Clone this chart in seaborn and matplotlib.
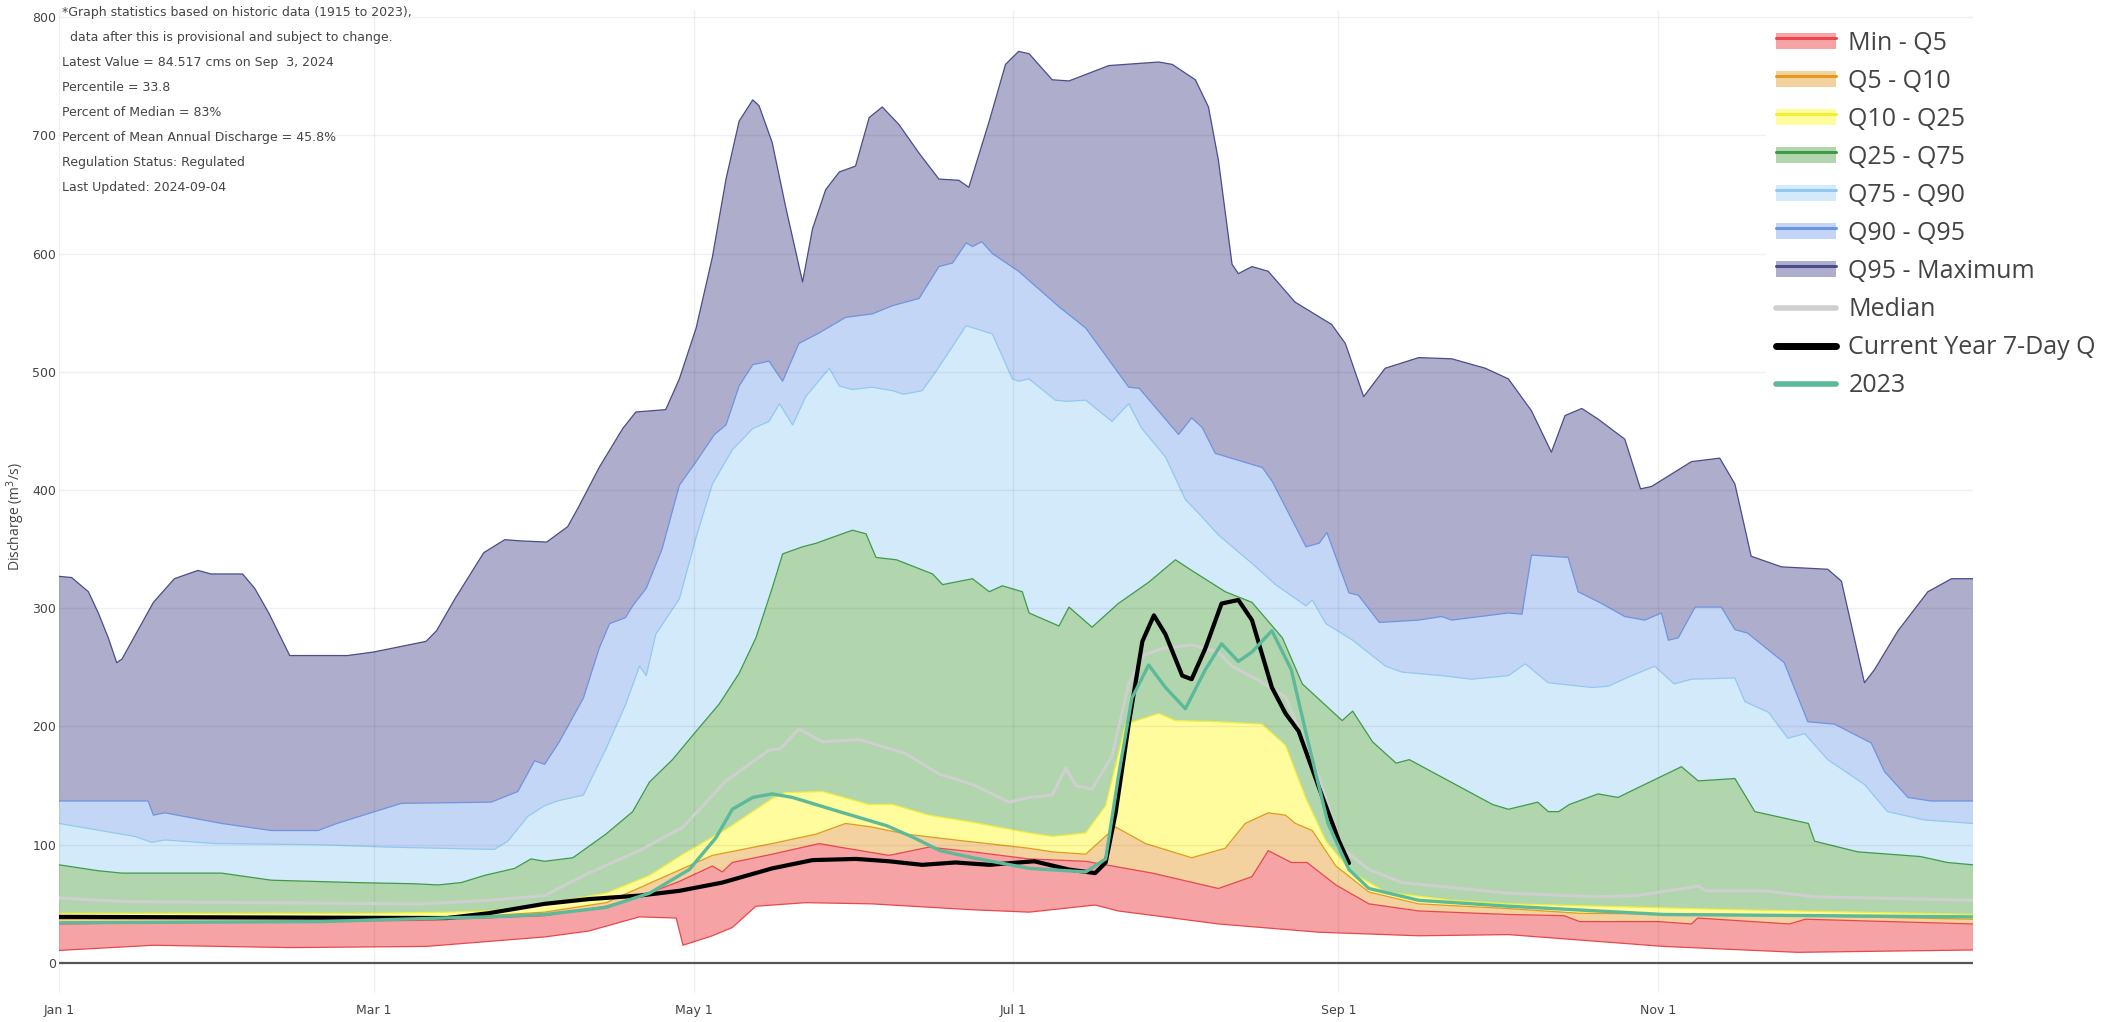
import numpy as np
import pandas as pd
import matplotlib
matplotlib.use('Agg')
import matplotlib.pyplot as plt
import matplotlib.dates as mdates
from matplotlib.patches import Patch, Rectangle
from matplotlib.lines import Line2D
from matplotlib.legend_handler import HandlerBase
import seaborn as sns

# ---- data (day of year 2024, discharge m3/s) ----
max_days = [0, 2.4, 5.6, 7.5, 9.4, 11, 12, 15, 18, 22, 26.5, 29, 35, 37.3, 40, 44, 55, 60, 70, 72,
            75.5, 81, 85, 88, 93, 97, 99, 103, 107.5, 110, 115.7, 118.3, 121.5, 124.6, 127.2, 129.7,
            132.3, 133.5, 136, 138.6, 141.8, 143.7, 146.2, 148.8, 151.9, 154.5, 157, 160.2, 164, 167.8,
            171.6, 173.5, 177.4, 180.5, 183, 185, 189.4, 192.6, 200.2, 209.7, 212.3, 216.7, 219.2, 221.1,
            223.7, 224.9, 227.5, 230.6, 235.7, 242.7, 245.3, 248.8, 252.9, 259.3, 265.6, 272, 276.4,
            280.8, 284.6, 287.2, 290.4, 293.5, 298.6, 301.6, 303.7, 311.3, 316.7, 319.6, 322.7, 328.5,
            337.3, 339.9, 344.3, 346.2, 350.7, 356.4, 360.9, 365]
max_vals = [327, 326, 314, 296, 275, 254, 257, 281, 305, 325, 332, 329, 329, 317, 296, 260, 260, 263, 272, 281,
            308, 347, 358, 357, 356, 369, 385, 419, 452, 466, 468, 494, 537, 597, 663, 712,
            730, 725, 694, 639, 576, 621, 654, 669, 674, 715, 724, 709, 685, 663,
            662, 656, 712, 760, 771, 769, 747, 746, 759, 762, 760, 747, 724, 679,
            591, 583, 589, 585, 559, 540, 524, 479, 503, 512, 511, 503, 494,
            467, 432, 463, 469, 460, 443, 401, 403, 424, 427, 405, 344, 335,
            333, 323, 237, 248, 281, 314, 325, 325]

q95_days = [0, 17, 18, 20.2, 31, 40.5, 49.4, 53, 60.2, 65.3, 82.4, 87.5, 90.7, 92.6, 95.4, 100, 103, 105,
            108, 109.4, 112, 115, 118.3, 121.5, 125, 127.2, 129.7, 132.3, 135.4, 138, 141.1, 145, 150,
            155.1, 159, 164, 167.8, 170.4, 173, 174.2, 176, 178, 183, 190.7, 195.8, 204, 206, 213.5, 216,
            218, 220.5, 229.5, 231.4, 237.8, 240.3, 241.8, 246, 247.8, 251.8, 259.3, 263.7, 265.6, 276.4,
            279, 280.8, 287.8, 289.7, 294.2, 298.6, 302.4, 305.6, 306.9, 308.8, 312, 317, 319.6, 322, 329,
            333.5, 338.6, 345.6, 348.1, 352.6, 357, 365]
q95_vals = [137, 137, 125, 127, 118, 112, 112, 118, 128, 135, 136, 145, 171, 168, 187, 224, 266, 287,
            292, 302, 317, 350, 404, 424, 447, 455, 488, 506, 509, 492, 524, 533, 546,
            549, 556, 562, 589, 592, 609, 606, 610, 600, 585, 555, 537, 487, 486, 447, 461,
            453, 431, 419, 407, 352, 355, 364, 313, 311, 288, 290, 293, 290, 296,
            295, 345, 343, 314, 304, 293, 290, 296, 273, 275, 301, 301, 282, 279, 254,
            204, 202, 186, 162, 140, 137, 137]

q90_days = [0, 14.5, 17.7, 20.2, 29.7, 50, 62.7, 83, 85.6, 89.4, 92.6, 95, 100, 104.3, 108, 110.7, 112,
            113.8, 118.3, 121.5, 124.6, 128.4, 132.3, 135.4, 137.4, 139.9, 142.4, 146.9, 148.8, 151.3,
            155.1, 159, 161, 164.6, 167.2, 173, 178, 181.8, 183, 185, 190, 192, 195.8, 200.8, 204, 206.5,
            211, 214.8, 217.4, 221.1, 227.5, 232, 237.8, 239, 241.6, 246.7, 253, 256.1, 263.7, 269.4,
            276.4, 279.6, 284, 292.3, 295.4, 299.9, 304.3, 308, 311.3, 319.6, 321.5, 326, 329.7, 332.9,
            337.3, 344.3, 348.7, 355.7, 365]
q90_vals = [118, 107, 102, 104, 101, 100, 98, 96, 103, 124, 133, 137, 142, 181, 218, 251, 243,
            278, 308, 360, 405, 434, 452, 458, 473, 455, 479, 503, 488, 485,
            487, 484, 481, 484, 500, 539, 532, 494, 492, 494, 476, 475, 476, 458, 473, 452,
            428, 392, 380, 362, 338, 320, 302, 307, 287, 273, 251, 246, 243, 240,
            243, 253, 237, 233, 234, 243, 251, 236, 240, 241, 221, 212, 190, 194,
            172, 151, 128, 121, 118]

q75_days = [0, 7.5, 12, 31, 40.5, 56.4, 67.8, 72.3, 76.7, 81.1, 86.9, 90, 92.6, 98, 104.3, 109.4, 112.6,
            117, 121.5, 125.9, 129.7, 132.9, 136, 138, 141.8, 144.4, 147.5, 151.3, 153.9, 155.8, 159.7,
            166.6, 168.5, 174.2, 177.4, 179.9, 183.7, 185, 190.7, 192.6, 197, 202, 207.8, 212.9, 216,
            222.4, 227.5, 233.3, 237.1, 244.7, 246.7, 250.5, 255, 257.5, 273.4, 276.4, 282, 284, 286, 288,
            293.5, 297.3, 301, 309.4, 312.6, 319.6, 323.4, 333.6, 334.8, 343, 355, 360.1, 365]
q75_vals = [83, 78, 76, 76, 70, 68, 67, 66, 68, 74, 80, 88, 86, 89, 109, 128, 153,
            172, 196, 219, 245, 275, 317, 346, 352, 355, 360, 366, 363, 343, 341,
            329, 320, 325, 314, 319, 314, 296, 285, 301, 284, 304, 322, 341, 332,
            314, 305, 275, 236, 205, 213, 187, 169, 172, 134, 130, 136, 128, 128, 134,
            143, 140, 148, 166, 154, 156, 128, 118, 103, 94, 90, 85, 83]

q25_days = [0, 30, 60, 75, 81.8, 92.6, 104.3, 112.6, 119, 127.2, 136, 138.5, 145.6, 154.5, 159, 165.9,
            174.2, 185, 189.4, 195.8, 199.6, 203.4, 209.7, 212.9, 221.1, 229.4, 233.9, 237.8, 241.6,
            246.7, 253, 265.6, 276.4, 320, 365]
q25_vals = [42, 42, 42, 43, 44, 50, 59, 74, 92, 113, 139, 144, 145, 134, 134, 125,
            119, 110, 107, 110, 133, 202, 211, 205, 204, 202, 184, 139, 103,
            76, 60, 53, 50, 45, 41]

q10_days = [0, 60, 81.8, 92.6, 104.3, 117, 124.6, 136, 144.4, 150, 155, 161.5, 171, 185, 189.4, 195.8,
            201.5, 207.2, 216, 222.4, 226.2, 230.6, 233.9, 235.8, 239, 243.5, 249.8, 259.3, 276.4, 290,
            320, 365]
q10_vals = [37, 38, 40, 43, 51, 76, 91, 101, 109, 118, 115, 109, 104, 97, 94, 92,
            115, 101, 89, 97, 118, 127, 125, 118, 112, 82, 60, 50, 46, 42,
            41, 37]

q5_days = [0, 37, 69, 92.6, 104.3, 110.7, 118.3, 124.6, 126.5, 128.4, 136, 145, 148.8, 158.3, 165.9, 174.2,
           185, 195.8, 208.5, 221.1, 227.5, 230.6, 235, 238, 243.5, 249.8, 259.3, 276.4, 287, 290, 305,
           311.3, 312.5, 330, 333, 365]
q5_vals = [33, 35, 36, 40, 48, 56, 69, 82, 77, 85, 92, 101, 98, 91, 98, 94,
           88, 86, 76, 63, 73, 95, 85, 85, 66, 50, 44, 41, 40, 35, 35,
           33, 38, 33, 37, 33]

min_days = [0, 18, 44, 70, 92.6, 101, 110.7, 117.7, 119, 124.6, 128.4, 132.9, 142.4, 155, 174.2, 185,
            197.6, 202, 221.1, 240.3, 259.3, 276.4, 306, 331.6, 365]
min_vals = [10.6, 15, 13, 14, 22, 27, 39, 38, 15, 23, 30, 48, 51, 50, 45, 43,
            49, 44, 33, 26, 23, 24, 14, 9, 11]

median_days = [0, 12, 37, 69, 82, 92.6, 101, 110.7, 119, 127.2, 135.4, 137.5, 141.1, 145.6, 152.6, 161.5,
               167.8, 174.2, 181.2, 185, 189.4, 192, 193.9, 197, 200.8, 204, 206.6, 210.4, 216, 221,
               223.7, 228.8, 233.9, 240.3, 244.7, 249.8, 256.1, 276.4, 293.5, 301, 312.6, 314, 325.2,
               334.8, 365]
median_vals = [55, 52, 51, 50, 53, 57, 76, 95, 115, 154, 180, 181, 198, 187, 189, 177,
               160, 151, 136, 140, 142, 165, 150, 147, 175, 236, 260, 266, 269, 263,
               251, 239, 225, 157, 97, 79, 68, 59, 56, 57, 65, 61, 61,
               56, 53]

current_days = [0, 74, 81.8, 92.6, 101, 110.7, 118.3, 126.5, 136, 143.7, 152, 158.3, 164.6, 171, 177.4,
                183, 186, 192.6, 197.6, 199.6, 201.5, 204, 206.6, 208.8, 211, 214.2, 216, 218.6, 221.7,
                224.9, 227.5, 231.3, 233.9, 236.4, 240.3, 244.1, 246]
current_vals = [39, 38, 42, 50, 54, 57, 61, 68, 80, 87, 88, 86, 83, 85, 83,
                85, 86, 79, 76, 85, 127, 202, 272, 294, 278, 243, 240, 266, 304,
                307, 290, 233, 211, 196, 148, 103, 84.5]

y2023_days = [0, 50, 65, 82, 92.6, 104.3, 112.6, 120.2, 125.3, 128.4, 132.3, 136, 139.9, 148.8, 157.9, 163,
              168, 174.2, 185, 195.8, 199.6, 202, 204.6, 207.8, 211, 214.8, 218.6, 221.7, 224.9, 227.5,
              231.3, 235, 238.2, 242, 246, 249.8, 259.3, 276.4, 306, 365]
y2023_vals = [34, 35, 37, 39, 41, 47, 59, 79, 106, 130, 140, 143, 140, 128, 116, 106,
              95, 89, 80, 77, 88, 157, 224, 252, 233, 215, 248, 270, 255, 263,
              281, 248, 187, 118, 79, 63, 53, 48, 41, 39]

tick_days = [0, 60, 121, 182, 244, 305]
tick_labels = ['Jan 1', 'Mar 1', 'May 1', 'Jul 1', 'Sep 1', 'Nov 1']

info_lines = ['*Graph statistics based on historic data (1915 to 2023),',
              '  data after this is provisional and subject to change.',
              'Latest Value = 84.517 cms on Sep  3, 2024',
              'Percentile = 33.8',
              'Percent of Median = 83%',
              'Percent of Mean Annual Discharge = 45.8%',
              'Regulation Status: Regulated',
              'Last Updated: 2024-09-04']

start = pd.Timestamp('2024-01-01')


def to_x(days):
    return mdates.date2num(start + pd.to_timedelta(np.asarray(days, dtype=float), unit='D'))


class BandHandler(HandlerBase):
    # plotly-like swatch: pale fill with the trace line along its upper part
    def create_artists(self, legend, orig, xd, yd, width, height, fontsize, trans):
        r = Rectangle((-xd, -yd), width, height, facecolor=orig.get_facecolor(), lw=0,
                      transform=trans)
        ln = Line2D([-xd, -xd + width], [-yd + height * 0.72] * 2, color=orig.get_edgecolor(),
                    lw=2.2, transform=trans)
        return [r, ln]


sns.set_theme(style='white')
plt.rcParams['font.family'] = ['DejaVu Sans']

W, H = 2105, 1022
fig, ax = plt.subplots(figsize=(W / 100, H / 100), dpi=100)
fig.subplots_adjust(left=59 / W, right=1973 / W, bottom=1 - 993 / H, top=1 - 10 / H)

bounds = [(min_days, min_vals), (q5_days, q5_vals), (q10_days, q10_vals), (q25_days, q25_vals),
          (q75_days, q75_vals), (q90_days, q90_vals), (q95_days, q95_vals), (max_days, max_vals)]
fills = ['#f5a3a4', '#f4d29f', '#fefc9c', '#b1d6ae', '#d3eafb', '#c3d6f5', '#aeadcc']
lines = ['#e8474d', '#e39a1c', '#f2ee3a', '#3f9a48', '#92c8f0', '#6e93e0', '#4b4c8c']
labels = ['Min - Q5', 'Q5 - Q10', 'Q10 - Q25', 'Q25 - Q75', 'Q75 - Q90', 'Q90 - Q95', 'Q95 - Maximum']

for i in range(7):
    lo_d, lo_v = bounds[i]
    up_d, up_v = bounds[i + 1]
    xs = np.concatenate([to_x(up_d), to_x(lo_d)[::-1]])
    ys = np.concatenate([np.asarray(up_v, float), np.asarray(lo_v, float)[::-1]])
    ax.fill(xs, ys, color=fills[i], lw=0, zorder=1)

# boundary lines, each in its band colour
edge_cols = [lines[0]] + lines
for (d, v), c in zip(bounds, edge_cols):
    sns.lineplot(x=to_x(d), y=v, color=c, lw=0.9, ax=ax, estimator=None, sort=False, zorder=2)

# grid lines
for y in range(100, 900, 100):
    ax.axhline(y, color='black', alpha=0.06, lw=1, zorder=3)
for t in to_x(tick_days):
    ax.axvline(t, color='black', alpha=0.06, lw=1, zorder=3)
ax.axhline(0, color='#555555', lw=1.6, zorder=3)

sns.lineplot(x=to_x(median_days), y=median_vals, color='#cfcfcf', lw=2.2, ax=ax,
             estimator=None, sort=False, zorder=4)
sns.lineplot(x=to_x(current_days), y=current_vals, color='black', lw=3, ax=ax,
             estimator=None, sort=False, zorder=5)
sns.lineplot(x=to_x(y2023_days), y=y2023_vals, color='#5cb99a', lw=2.4, ax=ax,
             estimator=None, sort=False, zorder=6)

ax.set_xlim(to_x([0])[0], to_x([365])[0])
ax.set_ylim(-25.4, 806)
ax.set_xticks(to_x(tick_days))
ax.set_xticklabels(tick_labels)
ax.set_yticks(range(0, 900, 100))
ax.tick_params(axis='y', length=0, pad=2, labelsize=9, labelcolor='#444444')
ax.tick_params(axis='x', length=0, pad=8, labelsize=9, labelcolor='#444444')
for s in ax.spines.values():
    s.set_visible(False)
ax.set_xlabel('')
ax.set_ylabel('')
ax.grid(False)

fig.text(16 / W, 1 - 517 / H, 'Discharge (m$^3$/s)', rotation=90, ha='center', va='center',
         fontsize=10, color='#444444', family=['Open Sans', 'DejaVu Sans'])

for i, line in enumerate(info_lines):
    fig.text(62 / W, 1 - (12.7 + 25 * i) / H, line, ha='left', va='center',
             fontsize=9, color='#444444')

handles = [Patch(facecolor=f, edgecolor=c) for f, c in zip(fills, lines)]
handles += [Line2D([], [], color='#cfcfcf', lw=4),
            Line2D([], [], color='black', lw=5),
            Line2D([], [], color='#5cb99a', lw=4)]
leg_labels = labels + ['Median', 'Current Year 7-Day Q', '2023']
leg = fig.legend(handles=handles, labels=leg_labels, loc='upper left',
                 bbox_to_anchor=(1766 / W, 1 - 21 / H), frameon=True, facecolor='white',
                 edgecolor='white', framealpha=1, fancybox=False,
                 prop={'family': ['Open Sans', 'DejaVu Sans'], 'size': 18},
                 handlelength=2.4, handleheight=0.6, labelspacing=0.52, handletextpad=0.5,
                 borderpad=0.4, borderaxespad=0, handler_map={Patch: BandHandler()})
for t in leg.get_texts():
    t.set_color('#444444')

fig.savefig('out.png', dpi=100)
